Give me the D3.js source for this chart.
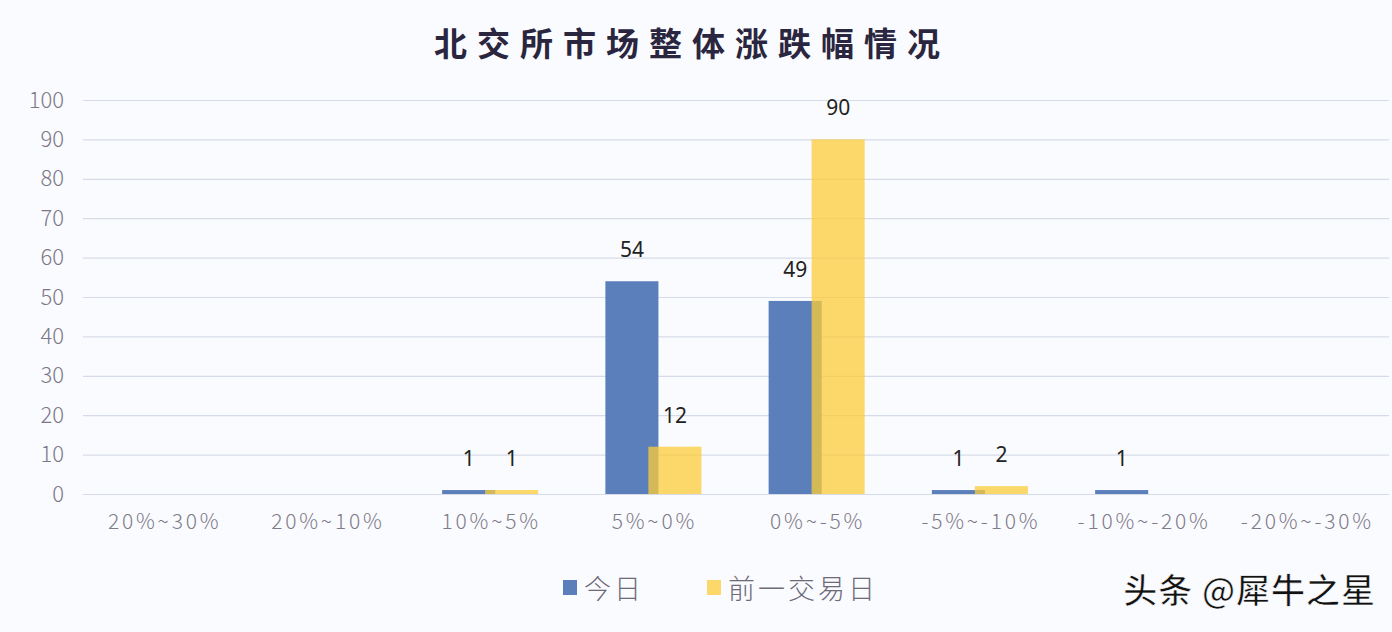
<!DOCTYPE html>
<html>
<head>
<meta charset="utf-8">
<script src="https://cdn.jsdelivr.net/npm/d3@7"></script>
<style>
  html, body { margin: 0; padding: 0; background: #fafbfe; }
  svg { display: block; }
</style>
</head>
<body>
<svg id="chart" width="1392" height="632"></svg>
<script>
const title = "北交所市场整体涨跌幅情况";
const categories = ["20%~30%", "20%~10%", "10%~5%", "5%~0%", "0%~-5%", "-5%~-10%", "-10%~-20%", "-20%~-30%"];
const seriesNames = ["今日", "前一交易日"];
const todayValues = [0, 0, 1, 54, 49, 1, 1, 0];
const prevValues = [0, 0, 1, 12, 90, 2, 0, 0];
const yTicks = [0, 10, 20, 30, 40, 50, 60, 70, 80, 90, 100];
const watermark = "头条 @犀牛之星";

const svg = d3.select("#chart");
const W = 1392, H = 632;
const m = { left: 83, right: 3, top: 100, bottom: 138 };

svg.append("rect").attr("width", W).attr("height", H).attr("fill", "#fafbfe");

const x = d3.scaleBand().domain(categories).range([m.left, W - m.right]).paddingInner(0).paddingOuter(0);
const y = d3.scaleLinear().domain([0, 100]).range([H - m.bottom, m.top]);

// gridlines
const gridG = svg.append("g")
  .attr("transform", `translate(${m.left},0)`)
  .call(d3.axisLeft(y).tickValues(yTicks).tickSize(-(W - m.left - m.right)).tickFormat(""));
gridG.select(".domain").remove();
gridG.selectAll(".tick line").attr("stroke", "#d6dce7").attr("stroke-width", 1.2);

// y labels
const yAxisG = svg.append("g")
  .attr("transform", `translate(${m.left - 19},0)`)
  .call(d3.axisLeft(y).tickValues(yTicks).tickSize(0).tickPadding(0));
yAxisG.select(".domain").remove();
yAxisG.selectAll("text")
  .attr("font-family", "'Noto Sans CJK SC', 'Noto Sans', sans-serif")
  .attr("font-weight", 300)
  .attr("font-size", 22)
  .attr("fill", "#7d7788");

// x labels
const xAxisG = svg.append("g")
  .attr("transform", `translate(0,${H - m.bottom})`)
  .call(d3.axisBottom(x).tickSize(0).tickPadding(20));
xAxisG.select(".domain").remove();
xAxisG.selectAll("text")
  .attr("font-family", "'Noto Sans CJK SC', 'Noto Sans', sans-serif")
  .attr("font-weight", 300)
  .attr("font-size", 21)
  .attr("letter-spacing", 2.8)
  .attr("fill", "#807a8a");

const bw = x.bandwidth();
const barW = bw * 0.325;
const blueOff = bw * 0.5 - 49;
const yellowOff = bw * 0.5 - 6;

const colors = ["#5b7fbb", "#fccc38"];

// today bars
svg.append("g").selectAll("rect")
  .data(categories.map((c, i) => ({ c, v: todayValues[i] })))
  .join("rect")
  .attr("x", d => x(d.c) + blueOff)
  .attr("width", barW)
  .attr("y", d => y(d.v))
  .attr("height", d => y(0) - y(d.v))
  .attr("fill", colors[0]);

// previous day bars
svg.append("g").selectAll("rect")
  .data(categories.map((c, i) => ({ c, v: prevValues[i] })))
  .join("rect")
  .attr("x", d => x(d.c) + yellowOff)
  .attr("width", barW)
  .attr("y", d => y(d.v))
  .attr("height", d => y(0) - y(d.v))
  .attr("fill", colors[1])
  .attr("fill-opacity", 0.75);

// labels
const labelFont = "'Noto Sans', 'Noto Sans CJK SC', sans-serif";
[[todayValues, blueOff], [prevValues, yellowOff]].forEach(([vals, off]) => {
  svg.append("g").selectAll("text")
    .data(categories.map((c, i) => ({ c, v: vals[i] })).filter(d => d.v > 0))
    .join("text")
    .attr("x", d => x(d.c) + off + barW / 2)
    .attr("y", d => y(d.v) - 24)
    .attr("text-anchor", "middle")
    .attr("font-family", labelFont)
    .attr("font-size", 21)
    .attr("fill", "#222")
    .text(d => d.v);
});

// title
svg.append("text")
  .attr("x", 692).attr("y", 56)
  .attr("text-anchor", "middle")
  .attr("font-family", "'Noto Sans CJK SC', sans-serif")
  .attr("font-weight", 700)
  .attr("font-size", 33)
  .attr("letter-spacing", 10)
  .attr("fill", "#2b2640")
  .text(title);

// legend
const legend = svg.append("g");
const legendX = [563, 707];
seriesNames.forEach((name, i) => {
  legend.append("rect")
    .attr("x", legendX[i]).attr("y", 580)
    .attr("width", 14).attr("height", 15)
    .attr("fill", colors[i])
    .attr("fill-opacity", i === 1 ? 0.75 : 1);
  legend.append("text")
    .attr("x", legendX[i] + 21).attr("y", 599)
    .attr("font-family", "'Noto Sans CJK SC', sans-serif")
    .attr("font-weight", 300)
    .attr("font-size", 27)
    .attr("letter-spacing", 3)
    .attr("fill", "#6e6a78")
    .text(name);
});

// watermark
svg.append("text")
  .attr("x", 1376).attr("y", 603)
  .attr("text-anchor", "end")
  .attr("font-family", "'Noto Sans CJK SC', sans-serif")
  .attr("font-weight", 500)
  .attr("font-size", 34)
  .attr("letter-spacing", 1)
  .attr("fill", "#111")
  .attr("stroke", "#fff")
  .attr("stroke-width", 0.6)
  .text(watermark);
</script>
</body>
</html>
